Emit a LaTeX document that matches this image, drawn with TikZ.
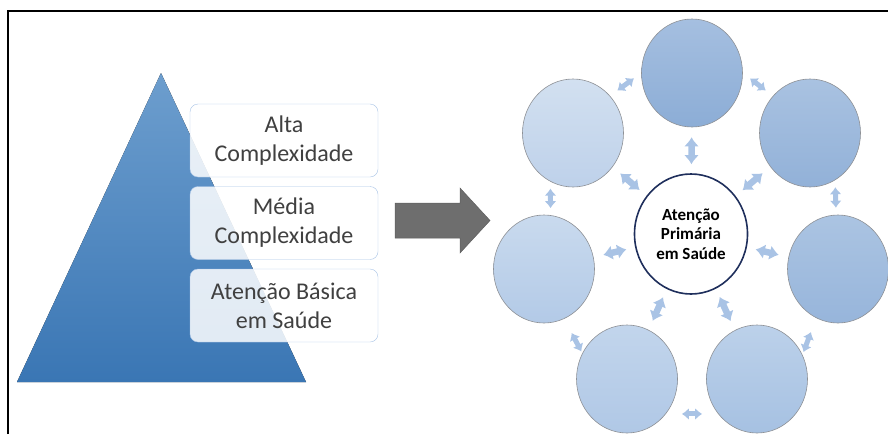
\documentclass[tikz,border=0pt]{standalone}
\usepackage{fontspec}
\setmainfont{Carlito}
\usepackage{tikz}
\usetikzlibrary{positioning}
\usetikzlibrary{arrows.meta}
\usetikzlibrary{shapes.geometric}
\usepackage{xcolor}
\definecolor{pyrtop}{HTML}{6D9ECE}
\definecolor{pyrbot}{HTML}{3A76B4}
\definecolor{boxedge}{HTML}{A9C4E6}
\definecolor{boxtext}{HTML}{404040}
\definecolor{orbedge}{HTML}{8E9196}
\definecolor{apsedge}{HTML}{1F2F5C}
\definecolor{linkblue}{HTML}{A9C3E5}
\definecolor{bigarrow}{HTML}{6E6E6E}
\definecolor{orbA}{HTML}{A5BFE0}
\definecolor{orbAb}{HTML}{8CADD6}
\definecolor{orbB}{HTML}{A9C2E1}
\definecolor{orbBb}{HTML}{92B1D8}
\definecolor{orbC}{HTML}{ABC4E2}
\definecolor{orbCb}{HTML}{97B5DB}
\definecolor{orbD}{HTML}{BCD1EA}
\definecolor{orbDb}{HTML}{A6C1E2}
\definecolor{orbE}{HTML}{C2D5EC}
\definecolor{orbEb}{HTML}{B0C8E6}
\definecolor{orbF}{HTML}{C9DAEE}
\definecolor{orbFb}{HTML}{B3CAE7}
\definecolor{orbG}{HTML}{D2E0F0}
\definecolor{orbGb}{HTML}{BED1EA}

\begin{document}
\begin{tikzpicture}[x=1pt, y=-1pt, node distance=82.5pt,
    level/.style={draw=boxedge, fill=white, fill opacity=0.85, text opacity=1, rounded corners=8pt, minimum width=188pt, minimum height=73pt, align=center, text=boxtext, font=\fontsize{24}{29}\selectfont},
    orb/.style={ellipse, draw=orbedge, line width=0.6pt, minimum width=101pt, minimum height=108pt, inner sep=0pt},
    spoke/.style={draw=linkblue, line width=6.5pt, {Latex[length=9pt,width=15pt]}-{Latex[length=9pt,width=15pt]}, shorten <=10pt, shorten >=9pt},
    ringlink/.style={draw=linkblue, line width=5pt, {Latex[length=7pt,width=12pt]}-{Latex[length=7pt,width=12pt]}}]
    \useasboundingbox (0,0) rectangle (888,434);

    % Frame
    \draw[line width=2.4pt] (8,434) -- (8,11) -- (889,11);

    % Pyramid with its levels
    \fill[top color=pyrtop, bottom color=pyrbot] (161,73) -- (306,382) -- (17,382) -- cycle;
    \node (alta) [level] at (284,140.5) {Alta\\Complexidade};
    \node (media) [level, below of=alta] {Média\\Complexidade};
    \node (basica) [level, below of=media] {Atenção Básica\\em Saúde};

    % Big arrow
    \fill[bigarrow, draw=bigarrow!85!black, line width=0.5pt] (395,203) -- (460,203) -- (460,188) -- (490,220.5) -- (460,253) -- (460,238) -- (395,238) -- cycle;

    % Network around primary care
    \node (aps) [ellipse, draw=apsedge, line width=1.6pt, fill=white, minimum width=113pt, minimum height=120pt, inner sep=0pt, align=center, font=\bfseries\fontsize{17}{19.5}\selectfont] at (691,234) {Atenção\\Primária\\em Saúde};
    \node (ctop) [orb, top color=orbA, bottom color=orbAb] at (692,73) {};
    \node (ctopr) [orb, top color=orbB, bottom color=orbBb] at (810,133) {};
    \node (cright) [orb, top color=orbC, bottom color=orbCb] at (838,269) {};
    \node (cbotr) [orb, top color=orbD, bottom color=orbDb] at (757,379) {};
    \node (cbotl) [orb, top color=orbE, bottom color=orbEb] at (627,379) {};
    \node (cleft) [orb, top color=orbF, bottom color=orbFb] at (544,269) {};
    \node (ctopl) [orb, top color=orbG, bottom color=orbGb] at (573,133) {};

    % Spokes
    \foreach \n in {ctop, ctopr, cright, cbotr, cbotl, cleft, ctopl}
        \draw[spoke] (\n) -- (aps);

    % Ring
    \draw[ringlink, shorten <=9pt, shorten >=9pt] (ctop.180) -- (ctopl.45);
    \draw[ringlink, shorten <=9pt, shorten >=9pt] (ctop.0) -- (ctopr.135);
    \draw[ringlink, shorten <=7pt, shorten >=7pt] (ctopl.-115) -- (cleft.83);
    \draw[ringlink, shorten <=7pt, shorten >=7pt] (ctopr.-62) -- (cright.92);
    \draw[ringlink, shorten <=16pt, shorten >=2pt] (cleft.-68) -- (cbotl.150);
    \draw[ringlink, shorten <=15pt, shorten >=3pt] (cright.-114) -- (cbotr.28);
    \draw[ringlink, shorten <=16pt, shorten >=16pt] (cbotl.-42) -- (cbotr.-138);
\end{tikzpicture}
\end{document}
